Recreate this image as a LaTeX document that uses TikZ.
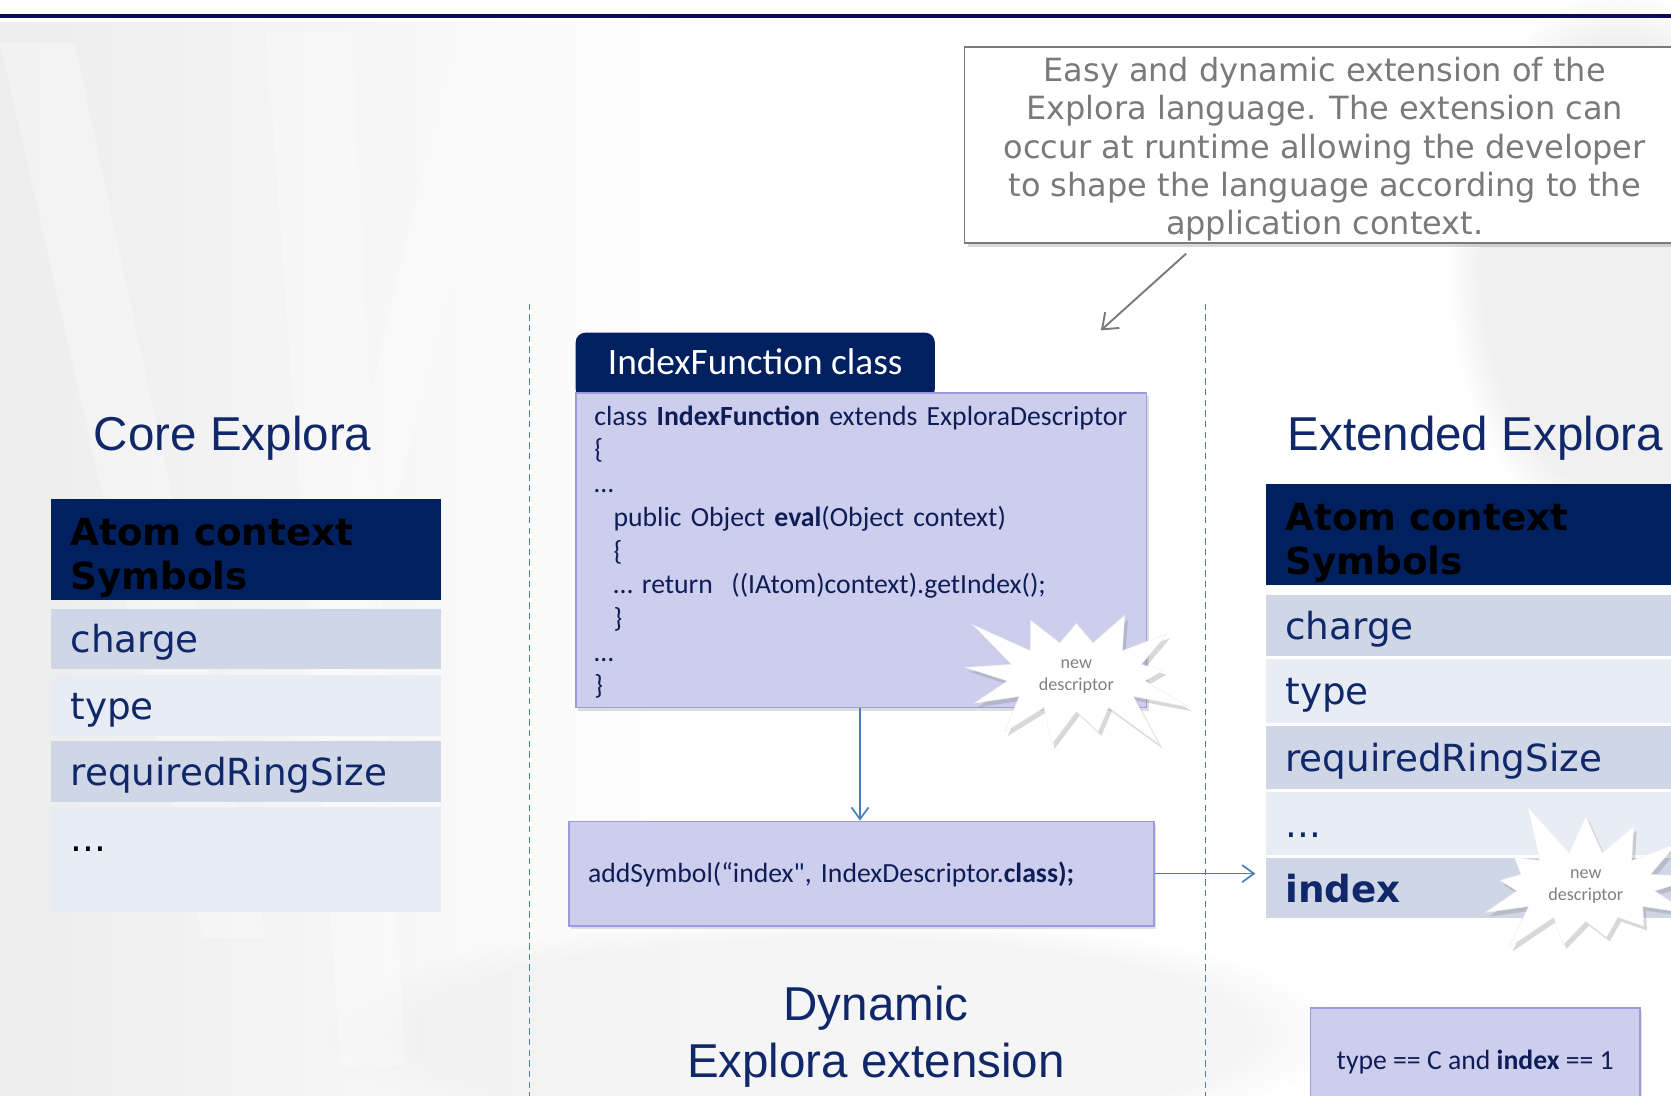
\documentclass[tikz,border=0pt]{standalone}
\usepackage{fontspec}
\setmainfont{Carlito}
\newfontfamily\codef{Carlito}
\newfontfamily\verd{DejaVu Sans}
\newfontfamily\arialf{Liberation Sans}
\usetikzlibrary{shapes.symbols,shadows,arrows.meta,fadings}
\definecolor{navy}{HTML}{002060}
\definecolor{txtnavy}{HTML}{10286A}
\definecolor{rowdark}{HTML}{CFD6E6}
\definecolor{rowlight}{HTML}{E8ECF4}
\definecolor{lav}{HTML}{CDCEEE}
\definecolor{lavborder}{HTML}{9C9CDD}
\definecolor{codetxt}{HTML}{0E1D55}
\definecolor{linkblue}{HTML}{4A7EBB}
\definecolor{callgray}{HTML}{7A7A7A}
\definecolor{topbar}{HTML}{0A0A5E}
\begin{document}
\begin{tikzpicture}[x=1pt,y=-1pt,
  hdr/.style={anchor=north west, fill=navy, inner ysep=0pt, inner xsep=18pt, minimum height=95pt,
    text width=#1, align=left, font=\verd\bfseries\fontsize{35}{41}\selectfont, text=black},
  tblrow/.style={anchor=north west, inner ysep=0pt, inner xsep=18pt, text width=#1, align=left,
    font=\verd\fontsize{35}{41}\selectfont, text=txtnavy, text height=30pt, text depth=4pt},
  codebox/.style={anchor=north west, fill=lav, draw=lavborder, line width=1.5pt,
    drop shadow={opacity=0.25, shadow xshift=2pt, shadow yshift=-3pt}},
  burst/.style={starburst, starburst points=13, starburst point height=55pt, random starburst=#1,
    minimum width=240pt, minimum height=175pt, fill=white, draw=white!88!gray, line width=0.5pt,
    drop shadow={opacity=0.3, shadow xshift=3pt, shadow yshift=-4pt},
    align=center, text=gray, font=\codef\fontsize{17}{21}\selectfont, inner sep=0pt},
  title/.style={font=\arialf\fontsize{44.6}{54}\selectfont, text=txtnavy, inner sep=0pt},
  link/.style={draw=linkblue, line width=1.6pt, -{Straight Barb[length=11pt,width=16pt,line width=1.6pt]}},
  divider/.style={draw=linkblue, line width=1.4pt, dash pattern=on 6pt off 4pt}
]
\useasboundingbox (0,0) rectangle (1568,1028);
% background
\fill[white] (0,0) rectangle (1568,1028);
\fill[black!4, path fading=circle with fuzzy edge 20 percent] (780,970) ellipse (480pt and 110pt);
\fill[black!6, path fading=circle with fuzzy edge 20 percent] (1520,250) ellipse (160pt and 260pt);
\fill[black!7, path fading=east] (0,18) rectangle (640,1028);
\fill[white, opacity=0.3] (0,40) -- (70,40) -- (250,880) -- (190,880) -- cycle;
\fill[white, opacity=0.3] (250,30) -- (330,30) -- (380,1000) -- (320,1000) -- cycle;
\fill[white, opacity=0.25] (420,60) -- (480,60) -- (310,700) -- (270,700) -- cycle;
% top bar
\draw[topbar, line width=4pt] (0,15) -- (1568,15);

% dividers
\draw[divider] (497,285) -- (497,1028);
\draw[divider] (1131,285) -- (1131,1028);

% callout
\node[draw=callgray, line width=1.8pt, fill=white, minimum width=676pt, minimum height=184pt,
  drop shadow={opacity=0.3, shadow xshift=3pt, shadow yshift=-4pt},
  align=center, font=\verd\fontsize{30}{36}\selectfont, text=callgray, inner sep=0pt]
  (callout) at (1243,136) {\rule{0pt}{31pt}Easy and dynamic extension of the\\Explora language. The extension can\\occur at runtime allowing the developer\\to shape the language according to the\\application context.};
\coordinate (ca) at (1113,238);
\coordinate (cb) at (1033,310);
\draw[callgray, line width=1.8pt, -{Straight Barb[length=13pt,width=20pt,line width=1.8pt]}] (ca) -- (cb);

% core explora
\node[title, anchor=base west] (core) at (88,423) {Core Explora};
\node[hdr=330pt] (lhead) at (48,468) {\rule{0pt}{41pt}Atom context\\Symbols};
\node[tblrow=330pt, fill=rowdark, minimum height=57pt] (lcharge) at (48,571) {charge};
\node[tblrow=330pt, fill=rowlight, minimum height=57pt] (ltype) at (48,633) {type};
\node[tblrow=330pt, fill=rowdark, minimum height=57pt] (lreq) at (48,695) {requiredRingSize};
\node[tblrow=330pt, fill=rowlight, minimum height=99pt, text height=28pt, text depth=44pt, text=black] (ldots) at (48,757) {...};

% middle
\node[anchor=north west, fill=navy, rounded corners=9pt, minimum width=337pt, minimum height=62pt,
  text=white, font=\fontsize{35}{40}\selectfont, inner sep=0pt, text height=26pt, text depth=4pt]
  (tab) at (540,312) {\raisebox{3pt}{IndexFunction class}};
\node[codebox, minimum width=535pt, minimum height=295pt, inner xsep=17pt, text width=501pt,
  align=left, font=\codef\fontsize{26}{31.6}\selectfont, text=codetxt] (code) at (540,368)
  {\rule{0pt}{22pt}class \textbf{IndexFunction} extends ExploraDescriptor\\
   \{\\
   …\\
   \hspace*{18pt}public Object \textbf{eval}(Object context)\\
   \hspace*{18pt}\{\\
   \hspace*{18pt}… return\ \ ((IAtom)context).getIndex();\\
   \hspace*{18pt}\}\\
   …\\
   \}};
\node[burst=3] (sb1) at (1010,635) {new\\descriptor};

\node[codebox, minimum width=549pt, minimum height=98pt, inner xsep=18pt, text width=513pt,
  align=left, font=\codef\fontsize{26}{31}\selectfont, text=codetxt, text height=20pt, text depth=4pt] (asym) at (533,770)
  {addSymbol(“index", IndexDescriptor.\textbf{class);}};
\draw[link] (code.south -| 807,0) -- (asym.north -| 807,0);

\node[title, anchor=north, align=center] (dyn) at (822,925) {Dynamic\\Explora extension};

% extended explora
\node[title, anchor=base west] (ext) at (1208,423) {Extended Explora};
\node[hdr=364pt] (rhead) at (1188,454) {\rule{0pt}{41pt}Atom context\\Symbols};
\node[tblrow=364pt, fill=rowdark, minimum height=57pt] (rcharge) at (1188,558) {charge};
\node[tblrow=364pt, fill=rowlight, minimum height=60pt] (rtype) at (1188,618) {type};
\node[tblrow=364pt, fill=rowdark, minimum height=59pt] (rreq) at (1188,681) {requiredRingSize};
\node[tblrow=364pt, fill=rowlight, minimum height=59pt] (rdots) at (1188,743) {...};
\node[tblrow=364pt, fill=rowdark, minimum height=56pt, font=\verd\bfseries\fontsize{35}{41}\selectfont,
  text height=31pt] (rindex) at (1188,805) {index};
\node[burst=5] (sb2) at (1488,832) {new\\descriptor};

\draw[link] (asym.east) -- ([xshift=-10pt]asym.east -| rindex.west);

\node[codebox, minimum width=309pt, minimum height=100pt, font=\codef\fontsize{26}{31}\selectfont,
  text=codetxt, text height=20pt, text depth=4pt] (query) at (1229,945) {type == C and \textbf{index} == 1};
\end{tikzpicture}
\end{document}
